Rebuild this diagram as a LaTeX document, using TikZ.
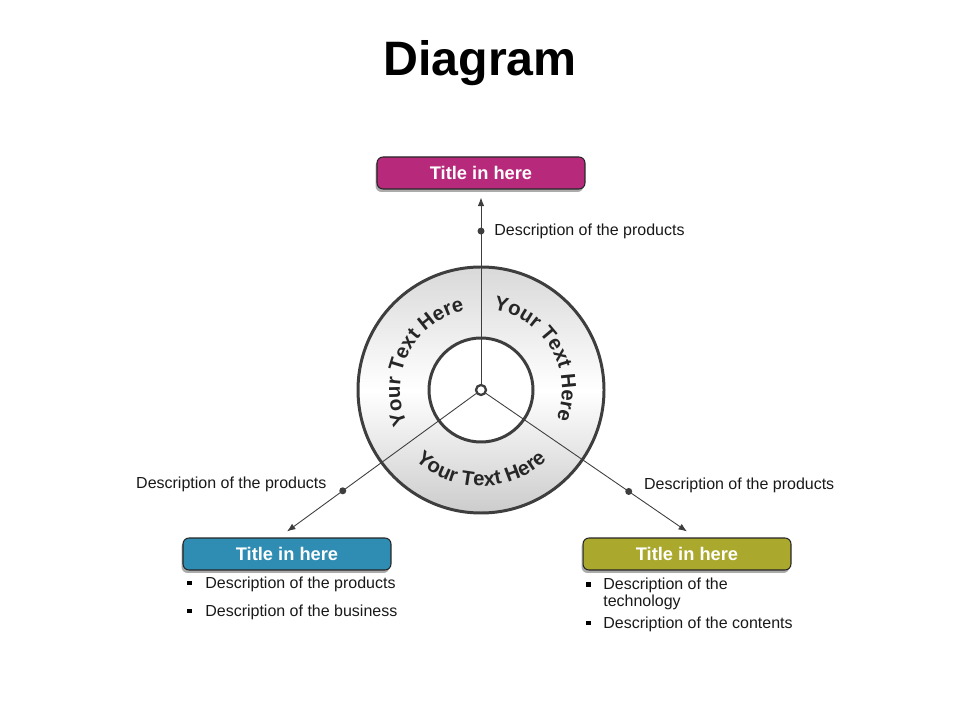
\documentclass[tikz,border=0pt]{standalone}
\usepackage{fontspec}
\setmainfont{Liberation Sans}
\usetikzlibrary{positioning,shadows,decorations.text,arrows.meta}

\definecolor{titlemagenta}{RGB}{183,41,123}
\definecolor{titleblue}{RGB}{47,140,178}
\definecolor{titleolive}{RGB}{170,169,46}
\definecolor{ringline}{RGB}{62,62,62}

\tikzset{
    titlebox/.style={draw=black!85, line width=0.6pt, rounded corners=0.12cm,
        minimum width=4.16cm, minimum height=0.64cm, text=white,
        font=\fontsize{10.4}{12}\selectfont\bfseries,
        drop shadow={shadow xshift=-0.03cm, shadow yshift=-0.06cm, fill=black!55, opacity=0.6}},
    desc/.style={font=\fontsize{9.1}{10}\selectfont, text=black!90, inner sep=0pt},
    dot/.style={circle, fill=ringline, inner sep=0pt, minimum size=0.14cm},
    bul/.style={rectangle, fill=black, inner sep=0pt, minimum size=0.1cm},
    hub/.style={circle, draw=ringline, line width=1.3pt, fill=white, inner sep=0pt, minimum size=0.2cm},
    spoke/.style={draw=ringline, line width=0.5pt, ->},
    ringtext/.style={decorate, decoration={text along path, text align=center,
        text={|\bfseries\fontsize{11.6}{13}\selectfont\color{black!85}|Your Text Here}}}
}

\begin{document}
\begin{tikzpicture}[x=0.02cm, y=0.02cm, >={Latex[length=0.17cm, width=0.13cm]}]
    \useasboundingbox (0,0) rectangle (960,720);

    \node[font=\fontsize{27.5}{30}\selectfont\bfseries, anchor=base] (title) at (480,644) {Diagram};

    \coordinate (c) at (481,330);
    \draw[ringline, line width=1.7pt, top color=gray!30, bottom color=gray!40, middle color=white] (c) circle[radius=123];
    \draw[ringline, line width=1.7pt, fill=white] (c) circle[radius=52];

    % tekst langs de ring
    \path[ringtext, shift={(c)}] (218:81) arc[start angle=218, end angle=88, radius=81];
    \path[ringtext, shift={(c)}] (95:81) arc[start angle=95, end angle=-35, radius=81];
    \path[ringtext, shift={(c)}] (205:96) arc[start angle=205, end angle=335, radius=96];

    \node[titlebox, fill=titlemagenta] (ttop) at (481,547) {Title in here};
    \node[titlebox, fill=titleblue] (tleft) at (287,166) {Title in here};
    \node[titlebox, fill=titleolive] (tright) at (687,166) {Title in here};

    \node[hub] (hub) at (c) {};

    \draw[spoke] (hub) -- node[dot, pos=0.82] (dtop) {} ([yshift=-0.16cm]ttop.south);
    \draw[spoke] (hub) -- node[dot, pos=0.705] (dleft) {} ([yshift=0.12cm]tleft.north);
    \draw[spoke] (hub) -- node[dot, pos=0.71] (dright) {} ([yshift=0.12cm]tright.north);

    \node[desc, anchor=west] (dsctop) at ([xshift=0.26cm]dtop.center) {Description of the products};
    \node[desc, anchor=east] (dscleft) at ([xshift=-0.32cm, yshift=0.12cm]dleft.center) {Description of the products};
    \node[desc, anchor=west] (dscright) at ([xshift=0.3cm, yshift=0.12cm]dright.center) {Description of the products};

    % opsommingen onder de vakken
    \node[desc, anchor=base west] (li1) at (205,131) {Description of the products};
    \node[desc, anchor=base west] (li2) at (205,103) {Description of the business};
    \node[desc, anchor=north west, align=left, font=\fontsize{9.1}{6.9}\selectfont] (ri1) at (603,142) {Description of the\\technology};
    \node[desc, anchor=base west] (ri2) at (603,91) {Description of the contents};

    \node[bul] at ([xshift=-0.32cm, yshift=0.12cm]li1.base west) {};
    \node[bul] at ([xshift=-0.32cm, yshift=0.12cm]li2.base west) {};
    \node[bul] at ([xshift=-0.3cm, yshift=-0.14cm]ri1.north west) {};
    \node[bul] at ([xshift=-0.3cm, yshift=0.12cm]ri2.base west) {};
\end{tikzpicture}
\end{document}
